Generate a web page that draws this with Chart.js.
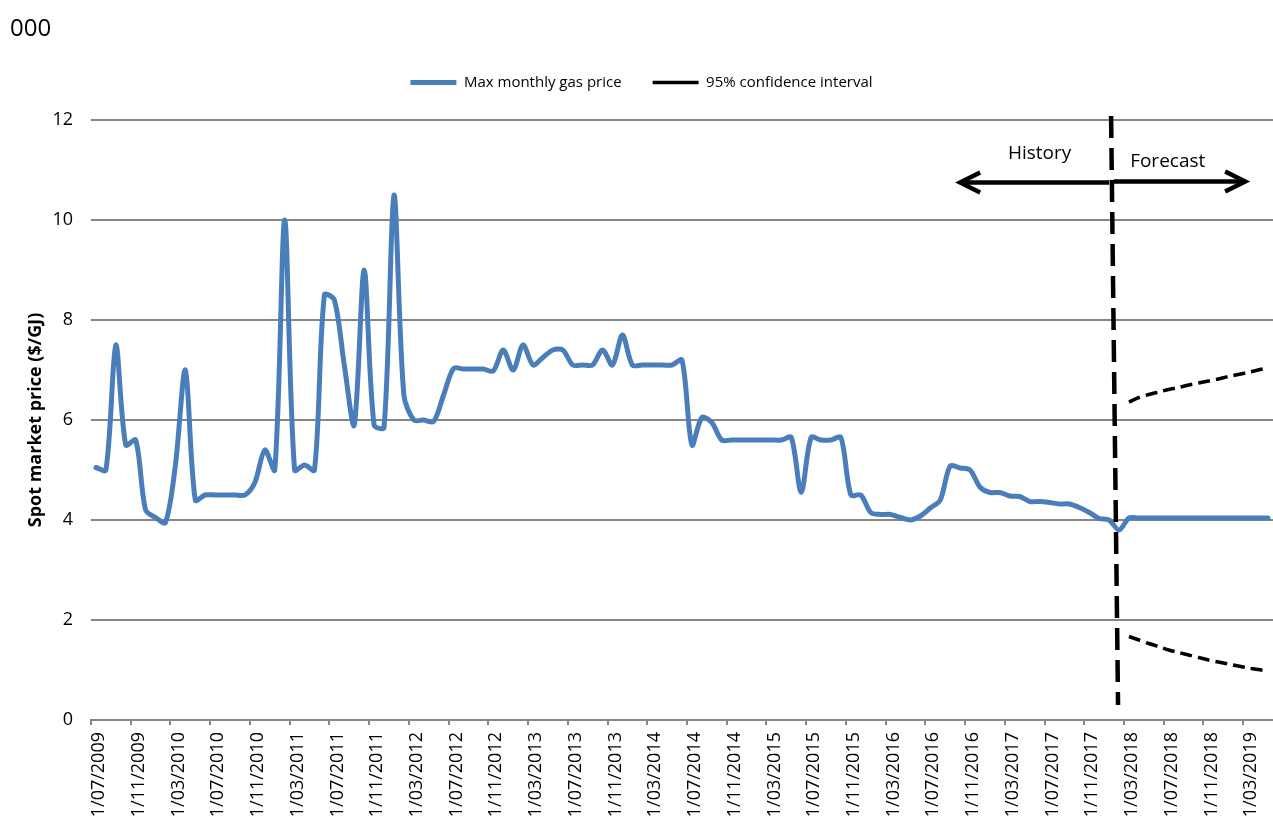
<!DOCTYPE html>
<html>
<head>
<meta charset="utf-8">
<title>Max monthly gas price</title>
<script src="https://cdn.jsdelivr.net/npm/chart.js@4.4.1/dist/chart.umd.min.js"></script>
<style>
  html, body { margin: 0; padding: 0; background: #fff; overflow: hidden; }
  #wrap { position: relative; width: 1273px; height: 820px; }
  #note { position: absolute; left: 10px; top: 15px; font: 24px/24px 'Open Sans', sans-serif; color: #000; }
</style>
</head>
<body>
<div id="wrap">
  <div id="note">000</div>
  <canvas id="gasChart"></canvas>
</div>
<script>
// monthly categories, Jul 2009 - May 2019
const months = [
  '1/07/2009', '1/08/2009', '1/09/2009', '1/10/2009', '1/11/2009', '1/12/2009',
  '1/01/2010', '1/02/2010', '1/03/2010', '1/04/2010', '1/05/2010', '1/06/2010', '1/07/2010', '1/08/2010', '1/09/2010', '1/10/2010', '1/11/2010', '1/12/2010',
  '1/01/2011', '1/02/2011', '1/03/2011', '1/04/2011', '1/05/2011', '1/06/2011', '1/07/2011', '1/08/2011', '1/09/2011', '1/10/2011', '1/11/2011', '1/12/2011',
  '1/01/2012', '1/02/2012', '1/03/2012', '1/04/2012', '1/05/2012', '1/06/2012', '1/07/2012', '1/08/2012', '1/09/2012', '1/10/2012', '1/11/2012', '1/12/2012',
  '1/01/2013', '1/02/2013', '1/03/2013', '1/04/2013', '1/05/2013', '1/06/2013', '1/07/2013', '1/08/2013', '1/09/2013', '1/10/2013', '1/11/2013', '1/12/2013',
  '1/01/2014', '1/02/2014', '1/03/2014', '1/04/2014', '1/05/2014', '1/06/2014', '1/07/2014', '1/08/2014', '1/09/2014', '1/10/2014', '1/11/2014', '1/12/2014',
  '1/01/2015', '1/02/2015', '1/03/2015', '1/04/2015', '1/05/2015', '1/06/2015', '1/07/2015', '1/08/2015', '1/09/2015', '1/10/2015', '1/11/2015', '1/12/2015',
  '1/01/2016', '1/02/2016', '1/03/2016', '1/04/2016', '1/05/2016', '1/06/2016', '1/07/2016', '1/08/2016', '1/09/2016', '1/10/2016', '1/11/2016', '1/12/2016',
  '1/01/2017', '1/02/2017', '1/03/2017', '1/04/2017', '1/05/2017', '1/06/2017', '1/07/2017', '1/08/2017', '1/09/2017', '1/10/2017', '1/11/2017', '1/12/2017',
  '1/01/2018', '1/02/2018', '1/03/2018', '1/04/2018', '1/05/2018', '1/06/2018', '1/07/2018', '1/08/2018', '1/09/2018', '1/10/2018', '1/11/2018', '1/12/2018',
  '1/01/2019', '1/02/2019', '1/03/2019', '1/04/2019', '1/05/2019'
];

const tickLabels = [
  '1/07/2009', '1/11/2009', '1/03/2010', '1/07/2010', '1/11/2010', '1/03/2011', '1/07/2011', '1/11/2011',
  '1/03/2012', '1/07/2012', '1/11/2012', '1/03/2013', '1/07/2013', '1/11/2013', '1/03/2014', '1/07/2014',
  '1/11/2014', '1/03/2015', '1/07/2015', '1/11/2015', '1/03/2016', '1/07/2016', '1/11/2016', '1/03/2017',
  '1/07/2017', '1/11/2017', '1/03/2018', '1/07/2018', '1/11/2018', '1/03/2019'
];

// $/GJ
const maxPrice = [
  5.05, 5.0, 7.5, 5.5, 5.6, 4.2, 4.05, 3.95, 5.1, 7.0,
  4.4, 4.5, 4.5, 4.5, 4.5, 4.5, 4.75, 5.4, 5.0, 10.0,
  5.0, 5.1, 5.0, 8.5, 8.4, 7.1, 5.9, 9.0, 5.9, 5.85,
  10.5, 6.5, 6.0, 6.0, 5.97, 6.5, 7.03, 7.02, 7.02, 7.02,
  6.98, 7.4, 7.0, 7.5, 7.1, 7.25, 7.4, 7.4, 7.1, 7.1,
  7.1, 7.4, 7.1, 7.7, 7.1, 7.1, 7.1, 7.1, 7.1, 7.2,
  5.5, 6.05, 5.95, 5.6, 5.6, 5.6, 5.6, 5.6, 5.6, 5.6,
  5.65, 4.55, 5.65, 5.6, 5.6, 5.65, 4.5, 4.5, 4.15, 4.11,
  4.11, 4.05, 4.0, 4.08, 4.24, 4.4, 5.08, 5.04, 5.0, 4.66,
  4.55, 4.55, 4.48, 4.47, 4.37, 4.37, 4.35, 4.32, 4.32, 4.25,
  4.15, 4.03, 4.0, 3.8, 4.04, 4.04, 4.04, 4.04, 4.04, 4.04,
  4.04, 4.04, 4.04, 4.04, 4.04, 4.04, 4.04, 4.04, 4.04
];

// forecast band from 1/03/2018
const forecastStart = '1/03/2018';
const ciUpper = [6.36, 6.45, 6.51, 6.56, 6.61, 6.65, 6.70, 6.74, 6.78, 6.82, 6.87, 6.91, 6.95, 7.0, 7.04];
const ciLower = [1.67, 1.60, 1.53, 1.47, 1.40, 1.35, 1.30, 1.25, 1.20, 1.16, 1.12, 1.08, 1.04, 1.01, 0.97];

const FONT = "'Open Sans', sans-serif";
const GRID = '#868686';
const BLUE = '#4a7ebb';

const startIdx = months.indexOf(forecastStart);
const band = vals => vals.map((v, k) => ({ x: months[startIdx + k], y: v }));

// history / forecast divider and arrows, in category index / price units
const notes = {
  divider: { x0: 102.2, y0: 12.08, x1: 102.9, y1: 0.3 },
  history: { from: 102.0, to: 87.0, y: 10.75, text: 'History', tx: 95.0, ty: 11.22 },
  forecast: { from: 102.45, to: 115.7, y: 10.77, text: 'Forecast', tx: 107.9, ty: 11.07 }
};

const notesPlugin = {
  id: 'notes',
  afterDatasetsDraw(chart) {
    const { ctx, scales: { x, y } } = chart;
    ctx.save();
    ctx.strokeStyle = '#000';
    ctx.fillStyle = '#000';

    const d = notes.divider;
    ctx.lineWidth = 4.5;
    ctx.setLineDash([22, 10]);
    ctx.beginPath();
    ctx.moveTo(x.getPixelForValue(d.x0), y.getPixelForValue(d.y0));
    ctx.lineTo(x.getPixelForValue(d.x1), y.getPixelForValue(d.y1));
    ctx.stroke();
    ctx.setLineDash([]);

    ctx.font = '19px ' + FONT;
    ctx.textAlign = 'center';
    ctx.textBaseline = 'alphabetic';
    [notes.history, notes.forecast].forEach(a => {
      const x0 = x.getPixelForValue(a.from);
      const x1 = x.getPixelForValue(a.to);
      const yy = y.getPixelForValue(a.y);
      const dir = x1 > x0 ? 1 : -1;
      ctx.lineWidth = 4.5;
      ctx.lineJoin = 'miter';
      ctx.beginPath();
      ctx.moveTo(x0, yy);
      ctx.lineTo(x1 - dir * 2, yy);
      ctx.stroke();
      ctx.beginPath();
      ctx.moveTo(x1 - dir * 20, yy - 10);
      ctx.lineTo(x1, yy);
      ctx.lineTo(x1 - dir * 20, yy + 10);
      ctx.stroke();
      ctx.fillText(a.text, x.getPixelForValue(a.tx), y.getPixelForValue(a.ty));
    });
    ctx.restore();
  }
};

Chart.defaults.font.family = FONT;
Chart.defaults.color = '#000';

new Chart(document.getElementById('gasChart'), {
  type: 'line',
  data: {
    labels: months,
    datasets: [{
      label: 'Max monthly gas price',
      data: maxPrice,
      borderColor: BLUE,
      backgroundColor: BLUE,
      borderWidth: 5,
      borderCapStyle: 'round',
      borderJoinStyle: 'round',
      pointRadius: 0,
      tension: 0.3
    }, {
      label: '95% confidence interval',
      data: band(ciUpper),
      borderColor: '#000',
      backgroundColor: '#000',
      borderWidth: 3.5,
      borderDash: [12, 6],
      pointRadius: 0,
      tension: 0.3
    }, {
      label: '95% confidence interval (lower)',
      data: band(ciLower),
      borderColor: '#000',
      backgroundColor: '#000',
      borderWidth: 3.5,
      borderDash: [12, 6],
      pointRadius: 0,
      tension: 0.3
    }]
  },
  options: {
    responsive: true,
    maintainAspectRatio: false,
    animation: false,
    devicePixelRatio: 1,
    events: [],
    layout: { padding: { top: 44, left: 10, right: 0, bottom: 0 } },
    plugins: {
      tooltip: { enabled: false },
      legend: {
        position: 'top',
        labels: {
          filter: item => item.datasetIndex !== 2,
          usePointStyle: true,
          pointStyle: 'line',
          pointStyleWidth: 46,
          padding: 31,
          color: '#000',
          font: { family: FONT, size: 15 }
        }
      },
      // blank spacer between legend and plot
      subtitle: {
        display: true,
        text: '',
        weight: 500,
        font: { size: 10 },
        padding: { top: 4, bottom: 4 }
      }
    },
    scales: {
      x: { type: 'category', display: false, offset: true },
      xt: {
        type: 'linear',
        position: 'bottom',
        min: 0,
        max: months.length,
        afterBuildTicks: s => { s.ticks = tickLabels.map((_, k) => ({ value: k * 4 })); },
        afterFit: s => { s.height = 100; },
        grid: { drawOnChartArea: false, drawTicks: true, tickLength: 5, color: GRID, lineWidth: 2 },
        border: { display: true, color: GRID, width: 2 },
        ticks: {
          autoSkip: false,
          minRotation: 90,
          maxRotation: 90,
          labelOffset: 8,
          padding: 7,
          color: '#000',
          font: { family: FONT, size: 18 },
          callback: (v, k) => tickLabels[k]
        }
      },
      y: {
        min: 0,
        max: 12,
        afterFit: s => { s.width = 81; },
        ticks: { stepSize: 2, padding: 18, color: '#000', font: { family: FONT, size: 18 } },
        grid: { color: GRID, lineWidth: 2, drawTicks: false },
        border: { display: false },
        title: {
          display: true,
          text: 'Spot market price ($/GJ)',
          color: '#000',
          font: { family: FONT, size: 18, weight: 'bold' },
          padding: { top: 15, bottom: 0 }
        }
      }
    }
  },
  plugins: [notesPlugin]
});
</script>
</body>
</html>
